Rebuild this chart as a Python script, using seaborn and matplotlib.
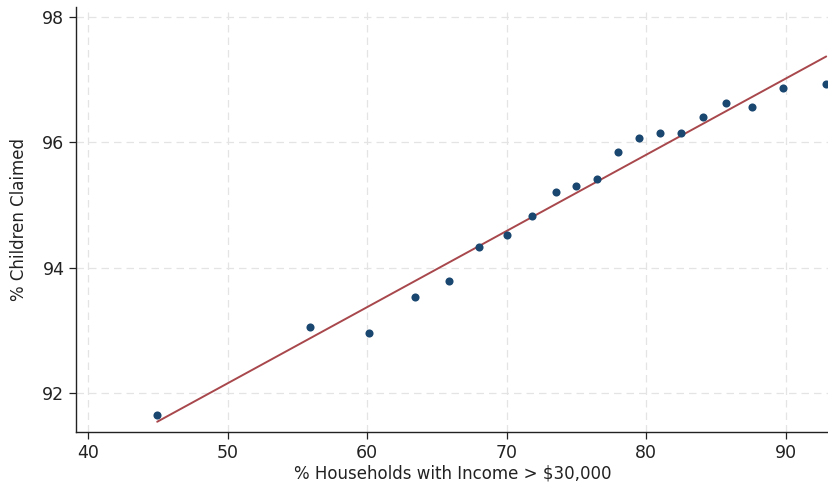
import numpy as np
import pandas as pd
import matplotlib
matplotlib.use("Agg")
import matplotlib.pyplot as plt
import seaborn as sns

# binned values
pct_income_30k = [44.95, 55.9, 60.1, 63.4, 65.9, 68.0, 70.0, 71.8, 73.5, 75.0,
                  76.5, 78.0, 79.5, 81.0, 82.5, 84.1, 85.7, 87.6, 89.8, 92.9]
pct_claimed = [91.65, 93.05, 92.96, 93.53, 93.79, 94.33, 94.52, 94.82, 95.21, 95.31,
               95.42, 95.85, 96.06, 96.15, 96.15, 96.40, 96.62, 96.56, 96.87, 96.93]
x_ticks = [40, 50, 60, 70, 80, 90]
y_ticks = [92, 94, 96, 98]

df = pd.DataFrame({"income": pct_income_30k, "claimed": pct_claimed})

sns.set_style("white")
plt.rcParams["font.family"] = ["DejaVu Sans"]

fig = plt.figure(figsize=(8.29, 4.88), dpi=100)
ax = fig.add_axes([0.092, 0.115, 0.908, 0.871])

sns.regplot(data=df, x="income", y="claimed", ax=ax, ci=None, truncate=True,
            scatter_kws={"color": "#1a476f", "s": 34, "alpha": 1, "linewidths": 0, "zorder": 3},
            line_kws={"color": "#a8474c", "lw": 1.4, "zorder": 2})

ax.set_xlim(39.15, 93.1)
ax.set_ylim(91.38, 98.16)
ax.set_xticks(x_ticks)
ax.set_yticks(y_ticks)
ax.grid(True, color="#e4e4e4", linestyle=(0, (6, 4)), lw=0.9)
ax.set_axisbelow(True)

sns.despine(ax=ax)
for side in ["left", "bottom"]:
    ax.spines[side].set_color("#222222")
    ax.spines[side].set_linewidth(1.0)
ax.tick_params(axis="both", which="major", length=5, width=0.9, color="#222222",
               labelsize=12.5, labelcolor="#222222", left=True, bottom=True)

ax.set_xlabel("% Households with Income > $30,000", fontsize=12, color="#222222", labelpad=2)
ax.set_ylabel("% Children Claimed", fontsize=12, color="#222222", labelpad=10)

fig.savefig("out.png", dpi=100)
plt.close(fig)
